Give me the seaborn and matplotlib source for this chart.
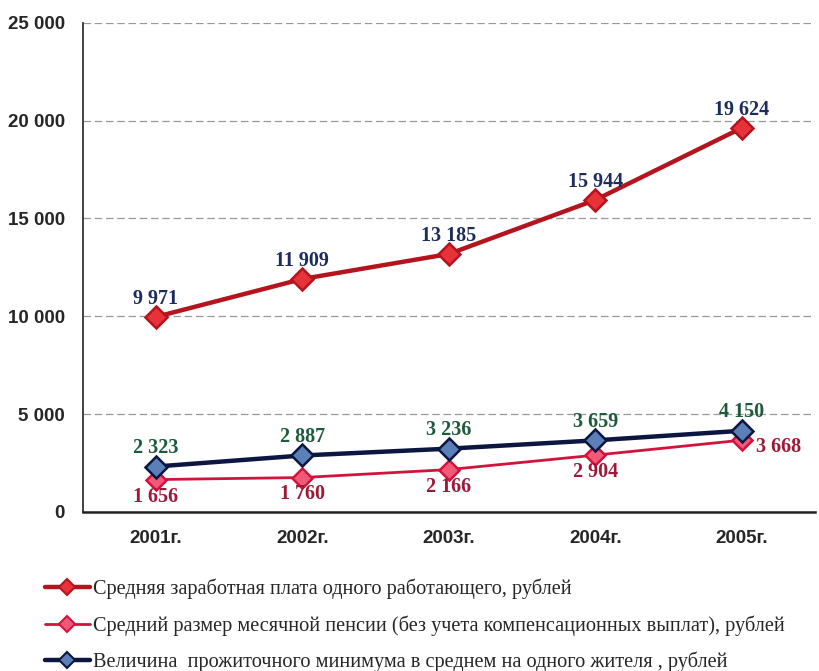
import matplotlib
matplotlib.use("Agg")
import matplotlib.pyplot as plt
import seaborn as sns
import pandas as pd
from matplotlib.lines import Line2D
from matplotlib.ticker import FixedLocator

# -----------------------------
# Data
# -----------------------------
years = ["2001г.", "2002г.", "2003г.", "2004г.", "2005г."]
salary = [9971, 11909, 13185, 15944, 19624]
pension = [1656, 1760, 2166, 2904, 3668]
minimum = [2323, 2887, 3236, 3659, 4150]

legend_labels = [
    "Средняя заработная плата одного работающего, рублей",
    "Средний размер месячной пенсии (без учета компенсационных выплат), рублей",
    "Величина  прожиточного минимума в среднем на одного жителя , рублей",
]
y_ticks = [0, 5000, 10000, 15000, 20000, 25000]

def fmt(v):
    return f"{v:,}".replace(",", " ")

df = pd.DataFrame({"year": years, "salary": salary,
                   "pension": pension, "minimum": minimum})

# -----------------------------
# Styles
# -----------------------------
sns.set_style("white")
styles = {
    "salary": dict(color="#b4141e", mfc="#e8323a", lw=3.2, ms=11),
    "pension": dict(color="#d2143c", mfc="#f05a78", lw=2.0, ms=10),
    "minimum": dict(color="#0c1640", mfc="#5b80b8", lw=3.2, ms=11),
}
label_colors = {"salary": "#1c2c5c", "pension": "#a01838", "minimum": "#1e5a3c"}

fig = plt.figure(figsize=(8.19, 6.71), dpi=100)
ax = fig.add_axes([0.101, 0.237, 0.894, 0.729])

for key in ["salary", "pension", "minimum"]:
    st = styles[key]
    sns.lineplot(data=df, x="year", y=key, ax=ax, color=st["color"],
                 linewidth=st["lw"], marker="D", markersize=st["ms"],
                 markerfacecolor=st["mfc"], markeredgecolor=st["color"],
                 markeredgewidth=1.8, sort=False, zorder=3)

# data labels
lab_font = dict(family="Liberation Serif", fontweight="bold", fontsize=14.5)
for i, v in enumerate(salary):
    ax.annotate(fmt(v), (i, v), xytext=(0, 6), textcoords="offset points",
                ha="center", va="bottom", color=label_colors["salary"], **lab_font)
for i, v in enumerate(minimum):
    ax.annotate(fmt(v), (i, v), xytext=(0, 6), textcoords="offset points",
                ha="center", va="bottom", color=label_colors["minimum"], **lab_font)
for i, v in enumerate(pension):
    if i == len(pension) - 1:
        ax.annotate(fmt(v), (i, v), xytext=(10, -5), textcoords="offset points",
                    ha="left", va="center", color=label_colors["pension"], **lab_font)
    else:
        ax.annotate(fmt(v), (i, v), xytext=(0, -5), textcoords="offset points",
                    ha="center", va="top", color=label_colors["pension"], **lab_font)

# axes
ax.set_xlim(-0.5, 4.5)
ax.set_ylim(0, 25000)
ax.set_yticks(y_ticks)
ax.set_yticklabels([fmt(t) for t in y_ticks], fontsize=13.5, fontweight="bold",
                   family="Liberation Sans")
ax.set_xticks(range(len(years)))
ax.set_xticklabels(years, fontsize=13.5, fontweight="bold", family="Liberation Sans")
ax.xaxis.set_minor_locator(FixedLocator([0.5, 1.5, 2.5, 3.5]))
ax.tick_params(axis="x", which="major", length=0, pad=13)
ax.tick_params(axis="x", which="minor", length=5, width=1.2, color="#333333", direction="out")
ax.tick_params(axis="y", length=5, width=1.2, color="#333333", direction="out", pad=8)
ax.set_xlabel("")
ax.set_ylabel("")
ax.grid(axis="y", color="#999999", linestyle=(0, (6, 3)), linewidth=0.9, zorder=0)
ax.grid(axis="x", visible=False)
for side in ["top", "right"]:
    ax.spines[side].set_visible(False)
ax.spines["left"].set_color("#333333")
ax.spines["left"].set_linewidth(1.3)
ax.spines["bottom"].set_color("#222222")
ax.spines["bottom"].set_linewidth(1.8)

# legend
handles = []
for key in ["salary", "pension", "minimum"]:
    st = styles[key]
    handles.append(Line2D([0], [0], color=st["color"], lw=st["lw"], marker="D",
                          markersize=8, markerfacecolor=st["mfc"],
                          markeredgecolor=st["color"], markeredgewidth=1.5))
fig.legend(handles, legend_labels, loc="upper left", bbox_to_anchor=(0.045, 0.15),
           frameon=False, handlelength=2.2, handletextpad=0.15, labelspacing=0.8,
           prop=dict(family="Liberation Serif", size=14.6), borderaxespad=0)

fig.savefig("out.png", dpi=100)
plt.close(fig)
